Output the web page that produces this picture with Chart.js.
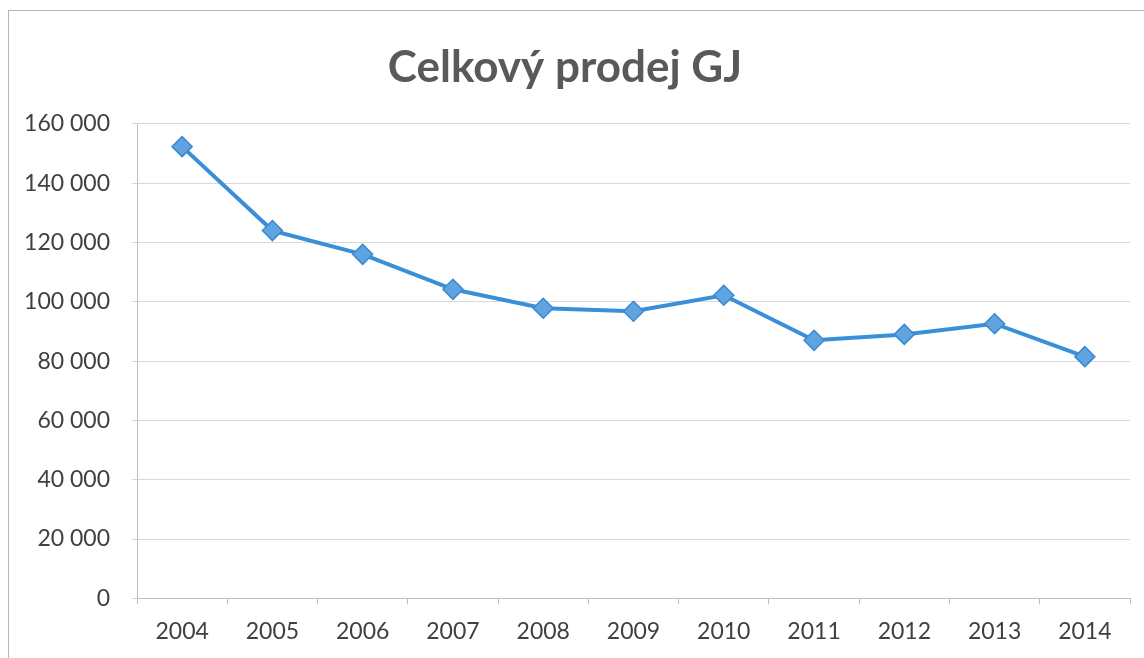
<!DOCTYPE html>
<html>
<head>
<meta charset="utf-8">
<script src="https://cdn.jsdelivr.net/npm/chart.js@4"></script>
<style>
  html, body { margin: 0; padding: 0; background: #fff; }
  #wrap { position: relative; width: 1144px; height: 658px; overflow: hidden; }
  #frame { position: absolute; left: 8px; top: 10px; width: 1200px; height: 700px; border: 1px solid #b5b5b5; }
  canvas { position: absolute; left: 0; top: 0; }
</style>
</head>
<body>
<div id="wrap">
  <div id="frame"></div>
  <canvas id="chart" width="1144" height="658"></canvas>
</div>
<script>
// Celkový prodej GJ, by year
const years = ['2004', '2005', '2006', '2007', '2008', '2009', '2010', '2011', '2012', '2013', '2014'];
const sales = [152300, 124000, 116000, 104200, 97800, 96800, 102200, 87000, 89000, 92600, 81500];
const yTicks = [0, 20000, 40000, 60000, 80000, 100000, 120000, 140000, 160000];

const FONT = "Lato, 'Open Sans', sans-serif";

// thousands separated by a space, like the Czech Excel original
const fmt = (v) => String(v).replace(/\B(?=(\d{3})+(?!\d))/g, ' ');

const ctx = document.getElementById('chart').getContext('2d');
new Chart(ctx, {
  type: 'line',
  data: {
    labels: years,
    datasets: [{
      label: 'Celkový prodej GJ',
      data: sales,
      borderColor: '#3a8fd9',
      borderWidth: 4,
      pointStyle: 'rectRot',
      pointRadius: 10,
      pointHoverRadius: 10,
      pointBackgroundColor: '#5fa3e0',
      pointBorderColor: '#3a8ad0',
      pointBorderWidth: 1.5,
      tension: 0
    }]
  },
  options: {
    responsive: false,
    animation: false,
    layout: { padding: { left: 0, right: 14, top: 0, bottom: 0 } },
    plugins: {
      legend: { display: false },
      tooltip: { enabled: false },
      title: {
        display: true,
        text: 'Celkový prodej GJ',
        color: '#595959',
        font: { family: FONT, size: 44, weight: 'bold' },
        padding: { top: 41, bottom: 30 }
      }
    },
    scales: {
      x: {
        offset: true,
        grid: { offset: true, drawOnChartArea: false, tickLength: 6, color: '#bfbfbf' },
        border: { display: true, color: '#bfbfbf' },
        ticks: { color: '#404040', font: { family: FONT, size: 23 }, padding: 13 }
      },
      y: {
        min: 0,
        max: 160000,
        afterBuildTicks: (axis) => { axis.ticks = yTicks.map(v => ({ value: v })); },
        afterFit: (axis) => { axis.width = 137; },
        grid: { color: '#d9d9d9', tickLength: 5 },
        border: { display: true, color: '#bfbfbf' },
        ticks: {
          color: '#404040',
          font: { family: FONT, size: 23 },
          padding: 22,
          callback: (v) => fmt(v)
        }
      }
    }
  }
});
</script>
</body>
</html>
